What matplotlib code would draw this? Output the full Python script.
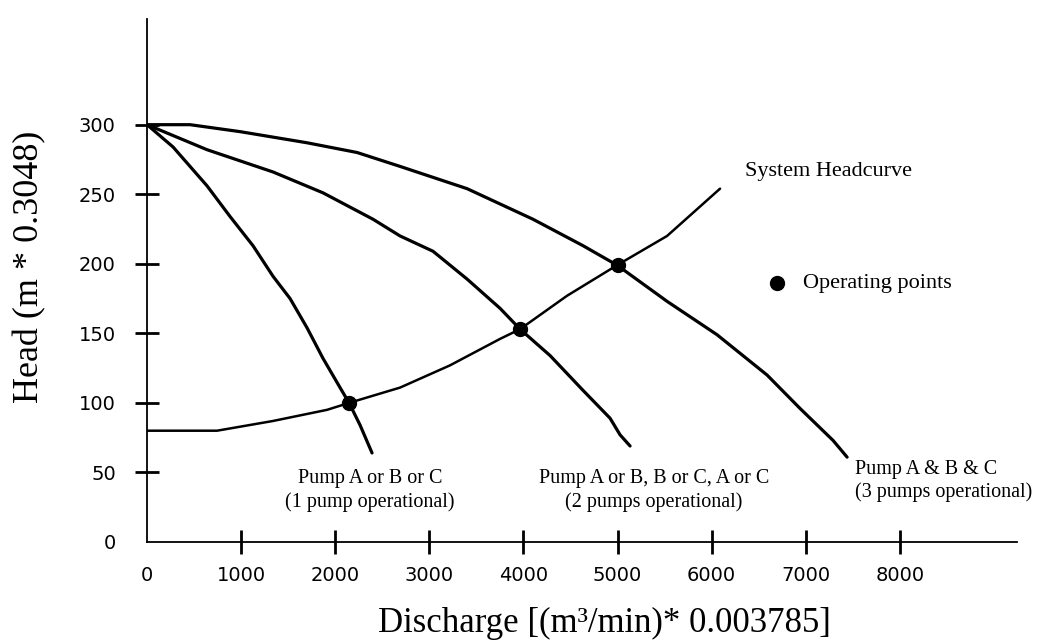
import matplotlib
matplotlib.use('Agg')
import matplotlib.pyplot as plt

# discharge / head values
one_pump_q = [0, 276, 638, 882, 1126, 1339, 1520, 1700, 1870, 2051, 2147, 2264, 2391]
one_pump_h = [300, 284, 256, 234, 213, 191, 175, 154, 132, 111, 100, 84, 64]

two_pump_q = [0, 638, 1339, 1870, 2402, 2689, 3039, 3401, 3751, 3964, 4283, 4633, 4920, 5027, 5133]
two_pump_h = [300, 282, 266, 251, 232, 220, 209, 189, 168, 153, 134, 109, 89, 77, 69]

three_pump_q = [0, 457, 988, 1700, 2232, 2689, 3401, 4102, 4633, 4995, 5526, 6057, 6589, 6939, 7290, 7439]
three_pump_h = [300, 300, 295, 287, 280, 270, 254, 232, 213, 199, 173, 149, 120, 96, 73, 61]

system_q = [0, 744, 1339, 1913, 2147, 2689, 3220, 3751, 3964, 4463, 4995, 5526, 6089]
system_h = [80, 80, 87, 95, 100, 111, 127, 146, 153, 177, 199, 220, 254]

op_q = [2150, 3960, 5000]
op_h = [100, 153, 199]

x_ticks = [0, 1000, 2000, 3000, 4000, 5000, 6000, 7000, 8000]
y_ticks = [0, 50, 100, 150, 200, 250, 300]

SERIF = 'Liberation Serif'

fig = plt.figure(figsize=(10.57, 6.43), dpi=100)
ax = fig.add_axes([0.1391, 0.1571, 0.8231, 0.8134])

ax.plot(one_pump_q, one_pump_h, color='black', lw=2.3, solid_capstyle='round')
ax.plot(two_pump_q, two_pump_h, color='black', lw=2.3, solid_capstyle='round')
ax.plot(three_pump_q, three_pump_h, color='black', lw=2.3, solid_capstyle='round')
ax.plot(system_q, system_h, color='black', lw=1.8, solid_capstyle='round')
ax.plot(op_q, op_h, 'o', color='black', ms=10)

ax.set_xlim(0, 9245)
ax.set_ylim(0, 376)

for s in ['top', 'right']:
    ax.spines[s].set_visible(False)
for s in ['left', 'bottom']:
    ax.spines[s].set_linewidth(1.3)

ax.set_xticks(x_ticks)
ax.set_yticks(y_ticks)
ax.tick_params(axis='both', direction='inout', length=17, width=2, labelsize=14)
ax.tick_params(axis='x', pad=9)
ax.tick_params(axis='y', pad=14)
ax.xaxis.get_major_ticks()[0].tick1line.set_visible(False)
ax.yaxis.get_major_ticks()[0].tick1line.set_visible(False)
for lbl in ax.get_xticklabels() + ax.get_yticklabels():
    lbl.set_family('DejaVu Sans')

ax.set_xlabel('Discharge [(m³/min)* 0.003785]', family=SERIF, fontsize=25, va='center')
ax.xaxis.set_label_coords(0.526, -0.1555)
ax.set_ylabel('Head (m * 0.3048)', family=SERIF, fontsize=26, va='center')
ax.yaxis.set_label_coords(-0.1345, 0.526)

# annotations
ax.text(6355, 266, 'System Headcurve', family=SERIF, fontsize=16, va='center', ha='left')
ax.plot([6695], [186], 'o', color='black', ms=10)
ax.text(6971, 186, 'Operating points', family=SERIF, fontsize=16, va='center', ha='left')

ax.text(2370, 37, 'Pump A or B or C\n(1 pump operational)', family=SERIF, fontsize=14.5,
        ha='center', va='center', multialignment='center', linespacing=1.3)
ax.text(5388, 37, 'Pump A or B, B or C, A or C\n(2 pumps operational)', family=SERIF, fontsize=14.5,
        ha='center', va='center', multialignment='center', linespacing=1.3)
ax.text(7524, 44, 'Pump A & B & C\n(3 pumps operational)', family=SERIF, fontsize=14.5,
        ha='left', va='center', multialignment='left', linespacing=1.2)

fig.savefig('out.png', dpi=100)
